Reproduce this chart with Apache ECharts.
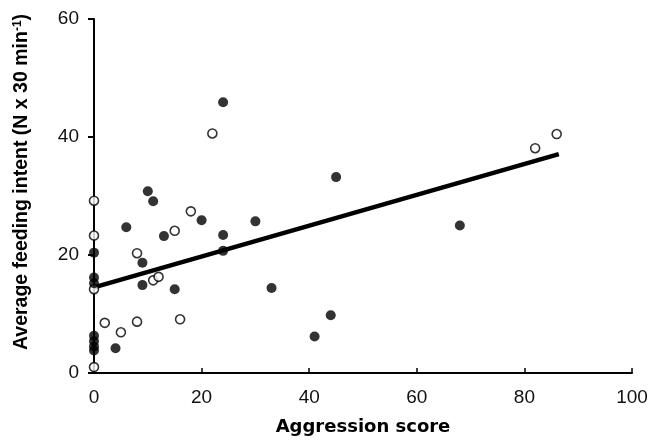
<!DOCTYPE html>
<html>
<head>
<meta charset="utf-8">
<script src="https://cdn.jsdelivr.net/npm/echarts@6/dist/echarts.min.js"></script>
<style>
  html, body { margin: 0; padding: 0; background: #fff; }
  #chart { width: 666px; height: 441px; }
</style>
</head>
<body>
<div id="chart"></div>
<script>
// filled circles: [aggression score, feeding intent]
var filledX = [0, 0, 0, 0, 0, 0, 0, 4, 6, 9, 9, 10, 11, 13, 15, 20, 24, 24, 24, 30, 33, 41, 44, 45, 68];
var filledY = [20.4, 16.2, 15.2, 6.3, 5.4, 4.5, 3.8, 4.2, 24.7, 18.7, 14.9, 30.8, 29.1, 23.2, 14.2, 25.9, 45.9, 23.4, 20.7, 25.7, 14.4, 6.2, 9.8, 33.2, 25];

// open circles
var openX = [0, 0, 0, 0, 2, 5, 8, 8, 11, 12, 15, 16, 18, 22, 82, 86];
var openY = [29.2, 23.3, 14.2, 1.0, 8.5, 6.9, 8.7, 20.3, 15.7, 16.3, 24.1, 9.1, 27.4, 40.6, 38.1, 40.5];

// regression line end points
var fitX = [0, 86.4];
var fitY = [14.5, 37.1];

function pairs(xs, ys) {
  return xs.map(function (x, i) { return [x, ys[i]]; });
}

var chart = echarts.init(document.getElementById('chart'));
chart.setOption({
  backgroundColor: '#fff',
  animation: false,
  grid: { left: 94, right: 34, top: 19, bottom: 66 },
  xAxis: {
    type: 'value', min: 0, max: 100, interval: 20,
    name: 'Aggression score', nameLocation: 'middle', nameGap: 45,
    nameTextStyle: { fontFamily: 'DejaVu Sans', fontWeight: 'bold', fontSize: 18, color: '#000' },
    axisLine: { lineStyle: { color: '#000', width: 2 } },
    axisTick: { inside: true, length: 5, lineStyle: { color: '#000', width: 1.5 } },
    axisLabel: { fontFamily: 'Liberation Sans', fontSize: 19, color: '#111', margin: 15 },
    splitLine: { show: false }
  },
  yAxis: {
    type: 'value', min: 0, max: 60, interval: 20,
    name: '{t|Average feeding intent (N x 30 min}{s|-1}{t|)}',
    nameLocation: 'middle', nameGap: 62, nameRotate: 90,
    nameTextStyle: {
      padding: [0, 0, 0, 28],
      rich: {
        t: { fontFamily: 'Liberation Sans', fontWeight: 'bold', fontSize: 19.5, color: '#000' },
        s: { fontFamily: 'Liberation Sans', fontWeight: 'bold', fontSize: 12, color: '#000', verticalAlign: 'top', padding: [0, 0, 8, 0] }
      }
    },
    axisLine: { show: true, lineStyle: { color: '#000', width: 2 } },
    axisTick: { show: true, length: 6, lineStyle: { color: '#000', width: 2 } },
    axisLabel: { fontFamily: 'Liberation Sans', fontSize: 19, color: '#111', margin: 15 },
    splitLine: { show: false }
  },
  series: [
    {
      type: 'line', data: pairs(fitX, fitY), showSymbol: false, symbol: 'none',
      lineStyle: { color: '#000', width: 4.5 }, z: 1
    },
    {
      type: 'scatter', data: pairs(openX, openY), symbol: 'circle', symbolSize: 9,
      itemStyle: { color: '#fff', borderColor: '#000', borderWidth: 1.6 }, z: 3
    },
    {
      type: 'scatter', data: pairs(filledX, filledY), symbol: 'circle', symbolSize: 10,
      itemStyle: { color: '#000' }, z: 4
    }
  ]
});
</script>
</body>
</html>
